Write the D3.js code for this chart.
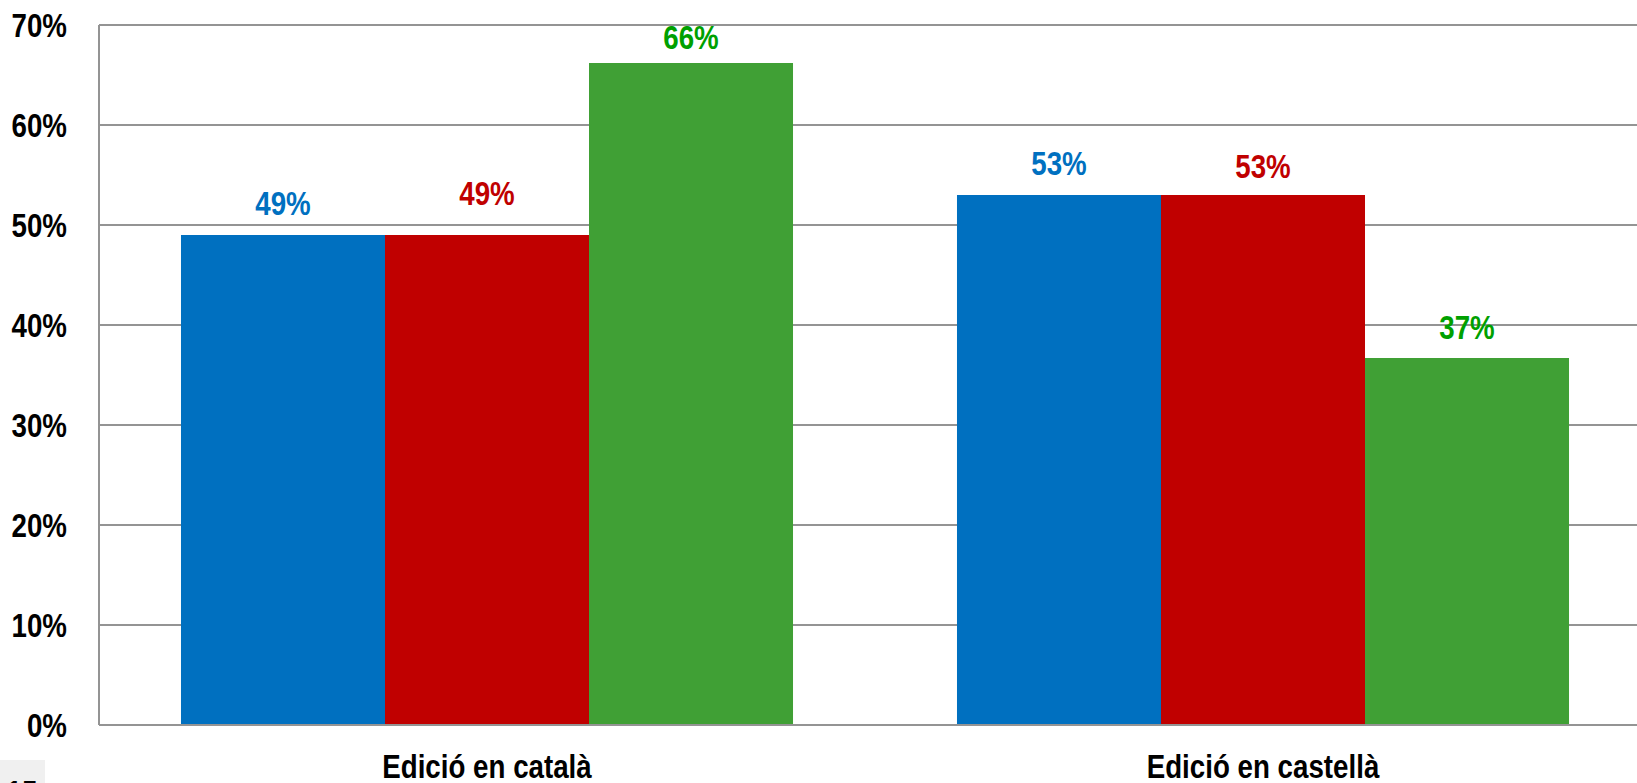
<!DOCTYPE html>
<html>
<head>
<meta charset="utf-8">
<script src="https://cdn.jsdelivr.net/npm/d3@7"></script>
<style>
  html, body { margin: 0; padding: 0; background: #fff; overflow: hidden; }
  svg { display: block; }
  text { font-family: "Liberation Sans Narrow", "Arial Narrow", "Liberation Sans", Arial, sans-serif; font-weight: bold; }
</style>
</head>
<body>
<svg id="chart" width="1637" height="783"></svg>
<script>
// ---- data ----
const categories = ["Edició en català", "Edició en castellà"];
const seriesNames = ["Sèrie 1", "Sèrie 2", "Sèrie 3"];
const seriesA = [0.49, 0.49, 0.662];   // Edició en català
const seriesB = [0.53, 0.53, 0.367];   // Edició en castellà
const yTicks = [0, 0.1, 0.2, 0.3, 0.4, 0.5, 0.6, 0.7];
const pageNumber = "15";

// ---- style ----
const barColors = ["#0070C0", "#C00000", "#40A035"];
const labelColors = ["#0070C0", "#C00000", "#00A000"];
// label gaps above bar tops (Excel label placement quirks), by category then series
const labelGaps = [[20, 30, 14], [20, 17, 19]];
const FS = 33;       // font size
const SX = 0.84;     // horizontal condensing (narrow font look)

const W = 1637, H = 783;
const mLeft = 99, mTop = 25, mBottom = 725;
const plotRight = 1651; // plot extends slightly past the window edge

const svg = d3.select("#chart");

function condense(sel, x, y) {
  sel.attr("x", 0).attr("y", 0)
     .attr("transform", `translate(${x},${y}) scale(${SX},1)`);
}

const y = d3.scaleLinear().domain([0, 0.7]).range([mBottom, mTop]);
const x0 = d3.scaleBand().domain(categories).range([mLeft, plotRight])
  .paddingInner(0.2113).paddingOuter(0.2113 / 2);
const x1 = d3.scaleBand().domain(seriesNames).range([0, x0.bandwidth()]).padding(0);

const values = [seriesA, seriesB];

// gridlines
svg.append("g").selectAll("line").data(yTicks).join("line")
  .attr("x1", mLeft).attr("x2", W)
  .attr("y1", d => y(d)).attr("y2", d => y(d))
  .attr("stroke", "#949494").attr("stroke-width", 2);

// left axis line
svg.append("line").attr("x1", mLeft).attr("x2", mLeft).attr("y1", mTop).attr("y2", mBottom)
  .attr("stroke", "#949494").attr("stroke-width", 2);

// y axis labels
const yAxis = d3.axisLeft(y).tickValues(yTicks).tickFormat(d3.format(".0%")).tickSize(0).tickPadding(32);
const yg = svg.append("g").attr("transform", `translate(${mLeft},0)`).call(yAxis);
yg.select(".domain").remove();
yg.attr("font-family", null).attr("font-size", null);
yg.selectAll("text").attr("font-size", FS).attr("fill", "#000")
  .attr("dy", "0.35em")
  .each(function() { condense(d3.select(this), -32, 0); });

// bars
const groups = svg.append("g").selectAll("g").data(categories).join("g")
  .attr("transform", d => `translate(${x0(d)},0)`);

groups.each(function(cat, ci) {
  const g = d3.select(this);
  const data = values[ci].map((v, si) => ({ v, si, name: seriesNames[si] }));
  g.selectAll("rect").data(data).join("rect")
    .attr("x", d => x1(d.name))
    .attr("width", x1.bandwidth())
    .attr("y", d => y(d.v))
    .attr("height", d => y(0) - y(d.v))
    .attr("fill", d => barColors[d.si]);
  g.selectAll("text").data(data).join("text")
    .attr("text-anchor", "middle")
    .attr("font-size", FS)
    .attr("fill", d => labelColors[d.si])
    .text(d => d3.format(".0%")(d.v))
    .each(function(d) {
      condense(d3.select(this), x1(d.name) + x1.bandwidth() / 2, y(d.v) - labelGaps[ci][d.si]);
    });
});

// bottom axis line
svg.append("line").attr("x1", mLeft).attr("x2", W).attr("y1", mBottom).attr("y2", mBottom)
  .attr("stroke", "#949494").attr("stroke-width", 2);

// x axis labels
const xAxis = d3.axisBottom(x0).tickSize(0).tickPadding(0);
const xg = svg.append("g").attr("transform", `translate(0,${mBottom})`).call(xAxis);
xg.select(".domain").remove();
xg.attr("font-family", null).attr("font-size", null);
xg.selectAll("text").attr("font-size", FS).attr("fill", "#000")
  .attr("dy", null)
  .each(function() { condense(d3.select(this), 0, 53); });

// page number box (cut off at bottom)
svg.append("rect").attr("x", 0).attr("y", 760).attr("width", 45).attr("height", 30).attr("fill", "#f0f0f0");
svg.append("text").attr("text-anchor", "middle")
  .attr("font-size", FS).attr("fill", "#000").text(pageNumber)
  .call(s => condense(s, 22, 804));
</script>
</body>
</html>
